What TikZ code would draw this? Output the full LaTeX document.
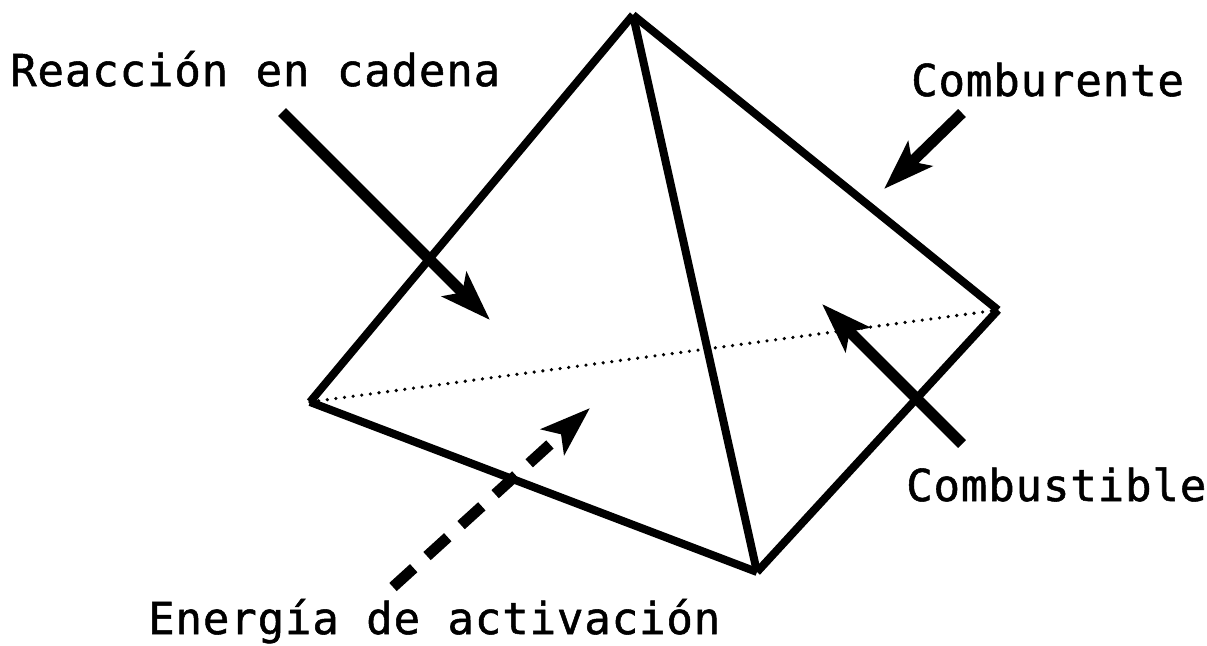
\documentclass[tikz,border=0pt]{standalone}
\usepackage{fontspec}
\setmonofont{DejaVu Sans Mono}[FakeBold=1.2,LetterSpace=2]
\usetikzlibrary{arrows.meta}

\begin{document}
\begin{tikzpicture}[x=1pt,y=-1pt,
    arista/.style={line width=8pt},
    oculta/.style={line width=3.6pt,line cap=round,dash pattern=on 0pt off 8.7pt},
    flecha/.style={line width=11pt,-{Stealth[length=50pt,width=34pt,inset=11pt]}},
    etiqueta/.style={font=\ttfamily\fontsize{44}{50}\selectfont,anchor=base west,inner sep=0pt}]

% ---- frame (same proportions as the page) ----
\useasboundingbox (0,0) rectangle (1207,645);

% ---- vertices of the tetrahedron ----
\coordinate (apex) at (633,15);
\coordinate (izq) at (310,402);
\coordinate (der) at (998,310);
\coordinate (base) at (757,572);

% edges
\draw[arista] (apex) -- (izq);
\draw[arista] (apex) -- (der);
\draw[arista] (apex) -- (base);
\draw[arista] (izq) -- (base);
\draw[arista] (base) -- (der);
% hidden edge
\draw[oculta] (izq) -- (der);

% ---- labels ----
\node[etiqueta] (reac) at (10,86) {Reacción en cadena};
\node[etiqueta] (comb) at (911,96) {Comburente};
\node[etiqueta] (cmbs) at (906,501) {Combustible};
\node[etiqueta] (ener) at (148,634) {Energía de activación};

% ---- arrows: start and tip ----
\coordinate (reacA) at (282,112);  \coordinate (reacB) at (490,320);
\coordinate (combA) at (962,113);  \coordinate (combB) at (884,189);
\coordinate (cmbsA) at (962,444);  \coordinate (cmbsB) at (822,304);
\coordinate (enerA) at (393,587);  \coordinate (enerB) at (590,408);

\draw[flecha] (reacA) -- (reacB);
\draw[flecha] (combA) -- (combB);
\draw[flecha] (cmbsA) -- (cmbsB);
\draw[flecha,dash pattern=on 28pt off 18pt] (enerA) -- (enerB);

\end{tikzpicture}
\end{document}
